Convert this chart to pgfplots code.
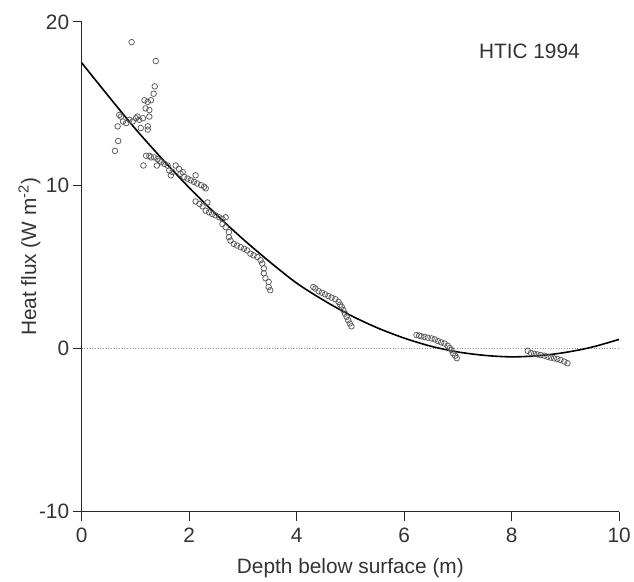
\documentclass[border=0pt]{standalone}
\usepackage{fontspec}
\setmainfont{Liberation Sans}
\usepackage{pgfplots}
\pgfplotsset{compat=1.18}

\pgfplotstableread{
x y
0.93 18.76
1.38 17.60
1.36 16.05
1.34 15.60
1.17 15.20
1.23 15.10
1.29 15.20
1.19 14.70
1.26 14.60
0.70 14.30
0.73 14.20
1.04 14.20
1.14 14.10
1.26 14.20
0.77 13.90
0.83 13.80
0.89 14.00
0.95 13.90
1.01 14.10
1.07 14.00
0.67 13.60
1.10 13.50
1.23 13.60
1.23 13.40
0.68 12.70
0.62 12.10
}\scatterA

\pgfplotstableread{
x y
1.15 11.20
1.20 11.80
1.26 11.80
1.29 11.70
1.35 11.70
1.41 11.60
1.40 11.20
1.45 11.50
1.48 11.40
1.54 11.30
1.60 11.20
1.63 10.90
1.66 10.60
1.69 10.80
1.75 11.20
1.81 11.00
1.84 10.70
1.88 10.80
1.91 10.50
1.97 10.40
2.03 10.30
2.09 10.20
2.12 10.60
2.15 10.10
2.22 10.00
2.28 9.90
2.31 9.80
2.12 9.00
2.19 8.85
2.25 8.70
2.34 8.94
2.31 8.43
2.37 8.33
2.43 8.23
2.49 8.15
2.56 8.03
2.62 7.93
2.68 8.03
2.62 7.62
2.68 7.42
2.74 7.12
2.74 6.81
2.77 6.60
2.83 6.40
2.89 6.30
2.96 6.20
3.02 6.10
3.08 6.00
3.14 5.80
3.20 5.70
3.27 5.60
3.33 5.40
3.36 5.20
3.39 4.90
3.39 4.60
3.42 4.30
3.48 4.07
3.48 3.76
3.51 3.56
}\scatterB

\pgfplotstableread{
x y
4.31 3.76
4.35 3.66
4.41 3.50
4.47 3.41
4.53 3.31
4.59 3.21
4.65 3.11
4.72 3.01
4.78 2.85
4.81 2.68
4.84 2.54
4.87 2.34
4.90 2.13
4.93 1.93
4.96 1.73
4.99 1.52
5.02 1.35
6.23 0.82
6.28 0.78
6.32 0.74
6.38 0.70
6.44 0.65
6.51 0.61
6.57 0.55
6.63 0.45
6.69 0.37
6.75 0.30
6.81 0.16
6.85 0.02
6.88 -0.10
6.91 -0.30
6.95 -0.45
6.98 -0.60
8.30 -0.15
8.36 -0.28
8.42 -0.33
8.48 -0.37
8.54 -0.41
8.61 -0.45
8.67 -0.51
8.73 -0.57
8.79 -0.61
8.85 -0.65
8.91 -0.71
8.98 -0.81
9.04 -0.91
}\scatterC

\pgfplotstableread{
x y
0.0 17.50
0.5 15.45
1.0 13.45
1.5 11.60
2.0 9.85
2.5 8.22
3.0 6.70
3.5 5.30
4.0 4.00
4.5 2.95
5.0 2.03
5.5 1.26
6.0 0.63
6.5 0.13
7.0 -0.22
7.5 -0.43
8.0 -0.52
8.5 -0.45
9.0 -0.25
9.5 0.08
10.0 0.55
}\fitcurve

\begin{document}
\begin{tikzpicture}
\begin{axis}[
  name=ax,
  width=540bp, height=492bp, scale only axis,
  xmin=0, xmax=10, ymin=-10, ymax=20,
  axis x line*=bottom, axis y line*=left,
  axis line style={black!85, line width=1.1bp, -},
  xtick={0,2,4,6,8,10}, ytick={-10,0,10,20},
  xticklabels={0,2,4,6,8,10}, yticklabels={-10,0,10,20},
  tick align=outside, major tick length=9bp,
  tick style={black!85, line width=1.1bp},
  ticklabel style={font=\fontsize{21}{25}\selectfont, text=black!80},
  xticklabel style={yshift=-4bp},
  label style={font=\fontsize{21}{25}\selectfont, text=black!80},
  xlabel={Depth below surface (m)},
  ylabel={Heat flux (W m\textsuperscript{-2})},
  xlabel style={at={(axis description cs:0.5,-0.116)}, anchor=center},
  ylabel style={at={(axis description cs:-0.097,0.52)}, anchor=center},
  clip=false,
]
\addplot[black!45, dotted, line width=0.7bp] coordinates {(0,0) (10,0)};
\addplot[black, line width=1.6bp, smooth] table {\fitcurve};
\addplot[only marks, mark=o, mark size=2.8bp, mark options={black!65, line width=0.75bp}] table {\scatterA};
\addplot[only marks, mark=o, mark size=2.8bp, mark options={black!65, line width=0.75bp}] table {\scatterB};
\addplot[only marks, mark=o, mark size=2.8bp, mark options={black!65, line width=0.75bp}] table {\scatterC};
\node[font=\fontsize{21}{25}\selectfont, text=black!80] at (axis description cs:0.833,0.939) {HTIC 1994};
\end{axis}
\path (ax.south west) ++(-82bp,-69bp) rectangle ++(634bp,583bp);
\end{tikzpicture}
\end{document}
